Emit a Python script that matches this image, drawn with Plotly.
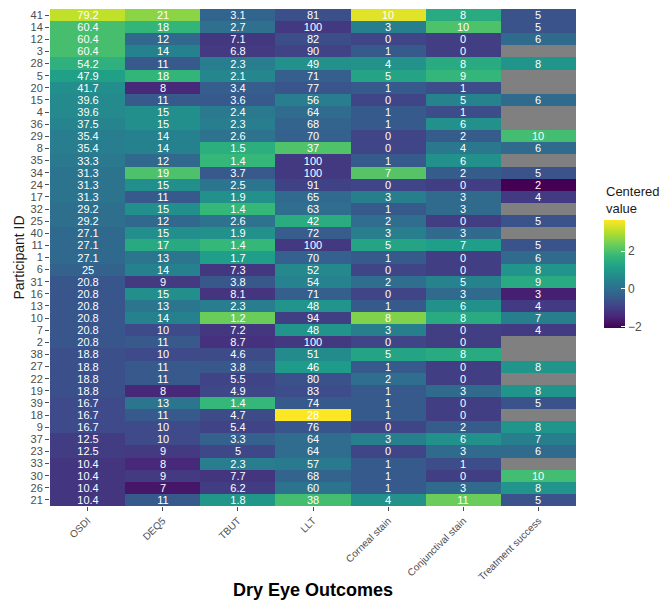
import numpy as np
import plotly.graph_objects as go

outcomes = ["OSDI", "DEQ5", "TBUT", "LLT", "Corneal stain", "Conjunctival stain", "Treatment success"]

participant_ids = [41, 14, 12, 3, 28, 5, 20, 15, 4, 36, 29, 8, 35, 34, 24, 17, 32, 25, 40, 11, 1,
                   6, 31, 16, 13, 10, 7, 2, 38, 27, 22, 19, 39, 18, 9, 37, 23, 33, 30, 26, 21]

osdi = [79.2, 60.4, 60.4, 60.4, 54.2, 47.9, 41.7, 39.6, 39.6, 37.5, 35.4, 35.4, 33.3, 31.3, 31.3,
        31.3, 29.2, 29.2, 27.1, 27.1, 27.1, 25, 20.8, 20.8, 20.8, 20.8, 20.8, 20.8, 18.8, 18.8,
        18.8, 18.8, 16.7, 16.7, 16.7, 12.5, 12.5, 10.4, 10.4, 10.4, 10.4]
deq5 = [21, 18, 12, 14, 11, 18, 8, 11, 15, 15, 14, 14, 12, 19, 15, 11, 15, 12, 15, 17, 13,
        14, 9, 15, 13, 14, 10, 11, 10, 11, 11, 8, 13, 11, 10, 10, 9, 8, 9, 7, 11]
tbut = [3.1, 2.7, 7.1, 6.8, 2.3, 2.1, 3.4, 3.6, 2.4, 2.3, 2.6, 1.5, 1.4, 3.7, 2.5, 1.9, 1.4, 2.6,
        1.9, 1.4, 1.7, 7.3, 3.8, 8.1, 2.3, 1.2, 7.2, 8.7, 4.6, 3.8, 5.5, 4.9, 1.4, 4.7, 5.4, 3.3,
        5, 2.3, 7.7, 6.2, 1.8]
llt = [81, 100, 82, 90, 49, 71, 77, 56, 64, 68, 70, 37, 100, 100, 91, 65, 63, 42, 72, 100, 70,
       52, 54, 71, 48, 94, 48, 100, 51, 46, 80, 83, 74, 28, 76, 64, 64, 57, 68, 60, 38]
corneal = [10, 3, 0, 1, 4, 5, 1, 0, 1, 1, 0, 0, 1, 7, 0, 3, 1, 2, 3, 5, 1,
           0, 2, 0, 1, 8, 3, 0, 5, 1, 2, 1, 1, 1, 0, 3, 0, 1, 1, 1, 4]
conjunctival = [8, 10, 0, 0, 8, 9, 1, 5, 1, 6, 2, 4, 6, 2, 0, 3, 3, 0, 3, 7, 0,
                0, 5, 3, 6, 8, 0, 0, 8, 0, 0, 3, 0, 0, 2, 6, 3, 1, 0, 3, 11]
treatment = [5, 5, 6, None, 8, None, None, 6, None, None, 10, 6, None, 5, 2, 4, None, 5, None, 5, 6,
             8, 9, 3, 4, 7, 4, None, None, 8, None, 8, 5, None, 8, 7, 6, None, 10, 8, 5]

columns = [osdi, deq5, tbut, llt, corneal, conjunctival, treatment]
# TBUT and LLT: lower is worse, so they are scaled on the reciprocal
inverse = [False, False, True, True, False, False, False]


def centered(vals, inv):
    a = np.array([np.nan if v is None else v for v in vals], dtype=float)
    if inv:
        a = 1.0 / a
    return (a - np.nanmean(a)) / np.nanstd(a, ddof=1)


z = np.column_stack([centered(c, inv) for c, inv in zip(columns, inverse)])
labels = [["" if v is None else f"{v:g}" for v in row] for row in zip(*columns)]
y_labels = [str(p) for p in participant_ids]

# page body has an 8px margin, so the figure is 8px smaller than the window
W, H = 661, 602
L, R, T, B = 42, 93, 1, 104
pw, ph = W - L - R, H - T - B

fig = go.Figure(
    go.Heatmap(
        z=z,
        x=outcomes,
        y=y_labels,
        text=labels,
        texttemplate="%{text}",
        textfont=dict(color="white", size=11, family="Liberation Sans, Arial"),
        colorscale="Viridis",
        hoverongaps=False,
        colorbar=dict(
            x=(596 - L) / pw,
            xanchor="left",
            xpad=0,
            ypad=0,
            y=(H - B - 266) / ph,
            yanchor="middle",
            lenmode="pixels",
            len=108,
            thickness=21,
            outlinewidth=0,
            tickvals=[-2, 0, 2],
            ticks="inside",
            ticklen=4,
            tickcolor="white",
            tickfont=dict(size=12, color="#4d4d4d"),
        ),
    )
)

fig.add_annotation(
    text="Centered<br>value", x=(596 - L) / pw, y=(H - B - 192) / ph, xref="paper", yref="paper",
    xanchor="left", yanchor="middle", align="left", showarrow=False,
    font=dict(size=13, color="#1a1a1a"),
)
fig.add_annotation(
    text="<b>Dry Eye Outcomes</b>", x=0.5, y=-(582 - (H - B)) / ph, xref="paper", yref="paper",
    xanchor="center", yanchor="middle", showarrow=False,
    font=dict(size=18, color="black"),
)
fig.add_annotation(
    text="Participant ID", x=-(L - 10) / pw, y=0.5, xref="paper", yref="paper",
    textangle=-90, xanchor="center", yanchor="middle", showarrow=False,
    font=dict(size=14, color="#1a1a1a"),
)

fig.update_xaxes(
    tickangle=-45, ticks="outside", ticklen=4, tickcolor="#4d4d4d",
    tickfont=dict(size=10, color="#4d4d4d"), showgrid=False, zeroline=False,
)
fig.update_yaxes(
    categoryorder="array", categoryarray=y_labels, autorange="reversed",
    tickmode="array", tickvals=y_labels, ticktext=y_labels,
    ticks="outside", ticklen=4, tickcolor="#4d4d4d",
    tickfont=dict(size=11, color="#4d4d4d"), showgrid=False, zeroline=False,
)
fig.update_layout(
    width=W,
    height=H,
    margin=dict(l=L, r=R, t=T, b=B),
    paper_bgcolor="white",
    plot_bgcolor="#808080",
    font=dict(family="Liberation Sans, Arial"),
)

fig.write_html("out.html")
